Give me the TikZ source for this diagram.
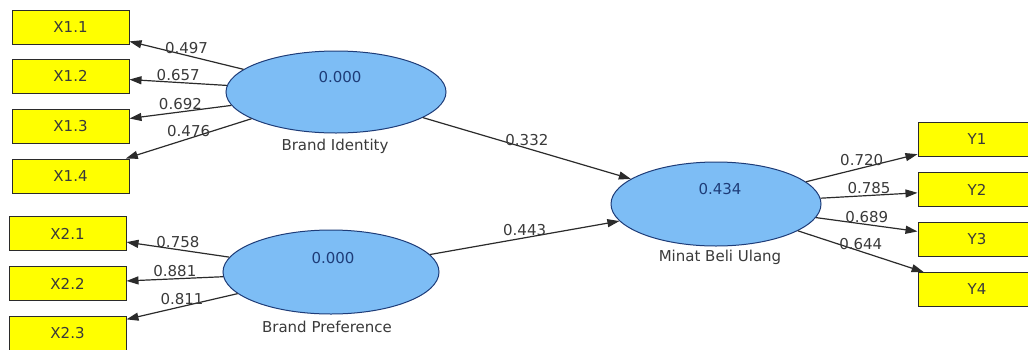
\documentclass[tikz,border=0pt]{standalone}
\usepackage{fontspec}
\setmainfont{DejaVu Sans}
\usetikzlibrary{arrows.meta,shapes.geometric}
\definecolor{indfill}{HTML}{FFFF00}
\definecolor{latfill}{HTML}{7DBDF5}
\definecolor{latline}{HTML}{1E3C78}
\definecolor{valtext}{HTML}{1E3C78}
\definecolor{wire}{HTML}{2B2B2B}
\definecolor{numtext}{HTML}{3A3A3A}

\begin{document}
\begin{tikzpicture}[x=1pt,y=-1pt,
  font=\fontsize{15}{17}\selectfont,
  indicator/.style={draw=wire, line width=1pt, fill=indfill,
    minimum width=117pt, minimum height=34pt, inner sep=0pt, text=numtext},
  construct/.style={ellipse, draw=latline, line width=1pt, fill=latfill, inner sep=0pt},
  loadarrow/.style={draw=wire, line width=1.2pt, -{Triangle[length=12pt,width=8pt]}},
  coef/.style={above, inner sep=1.5pt, text=numtext},
  rvalue/.style={text=valtext, inner sep=0pt},
  cname/.style={text=numtext, inner sep=0pt}]

\path[use as bounding box, clip] (0,0) rectangle (1028,349);
\fill[white] (0,0) rectangle (1028,349);

% indicator boxes
\node[indicator] (x11) at (70.5,27)  {X1.1};
\node[indicator] (x12) at (70.5,76)  {X1.2};
\node[indicator] (x13) at (70.5,126) {X1.3};
\node[indicator] (x14) at (70.5,176) {X1.4};
\node[indicator] (x21) at (67.5,233.5) {X2.1};
\node[indicator] (x22) at (67.5,283.5) {X2.2};
\node[indicator] (x23) at (67.5,333)   {X2.3};
\node[indicator, minimum width=118pt] (y1) at (977,139.5) {Y1};
\node[indicator, minimum width=118pt] (y2) at (977,189.5) {Y2};
\node[indicator, minimum width=118pt] (y3) at (977,239.5) {Y3};
\node[indicator, minimum width=118pt] (y4) at (977,289.5) {Y4};

% latent constructs
\node[construct, minimum width=220pt, minimum height=82pt] (bi)  at (336,92)  {};
\node[construct, minimum width=216pt, minimum height=84pt] (bp)  at (331,272) {};
\node[construct, minimum width=210pt, minimum height=84pt] (mbu) at (716,204) {};

\node[rvalue] (biv)  at (340,77)  {0.000};
\node[rvalue] (bpv)  at (333,258) {0.000};
\node[rvalue] (mbuv) at (720,189) {0.434};

\node[cname] (bin)  at (335,146) {Brand Identity};
\node[cname] (bpn)  at (327,327) {Brand Preference};
\node[cname] (mbun) at (720,257) {Minat Beli Ulang};

% outer loadings
\draw[loadarrow] (bi) -- (x11) node[coef, pos=0.5] {0.497};
\draw[loadarrow] (bi) -- (x12) node[coef, pos=0.5] {0.657};
\draw[loadarrow] (bi) -- (x13) node[coef, pos=0.5] {0.692};
\draw[loadarrow] (bi) -- (x14) node[coef, pos=0.5] {0.476};
\draw[loadarrow] (bp) -- (x21) node[coef, pos=0.5] {0.758};
\draw[loadarrow] (bp) -- (x22) node[coef, pos=0.5] {0.881};
\draw[loadarrow] (bp) -- (x23) node[coef, pos=0.5] {0.811};
\draw[loadarrow] (mbu) -- (y1) node[coef, pos=0.5] {0.720};
\draw[loadarrow] (mbu) -- (y2) node[coef, pos=0.5] {0.785};
\draw[loadarrow] (mbu) -- (y3) node[coef, pos=0.5] {0.689};
\draw[loadarrow] (mbu) -- (y4) node[coef, pos=0.5] {0.644};

% path coefficients
\draw[loadarrow] (bi) -- (mbu) node[coef, pos=0.5] {0.332};
\draw[loadarrow] (bp) -- (mbu) node[coef, pos=0.5] {0.443};
\end{tikzpicture}
\end{document}
